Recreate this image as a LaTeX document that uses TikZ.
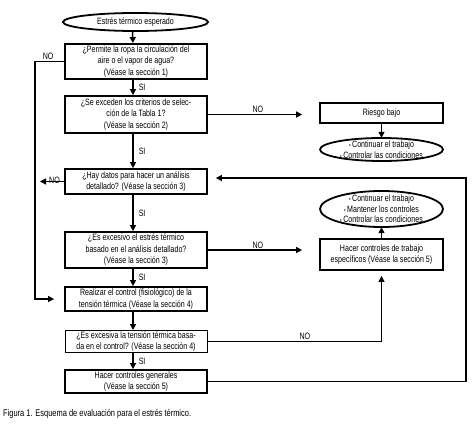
\documentclass[tikz,border=0pt]{standalone}
\usepackage{fontspec}
\setmainfont{Liberation Sans}[FakeStretch=0.77]
\usetikzlibrary{arrows.meta,calc}
\newcommand{\bul}{{\fontsize{6}{6}\selectfont •}\,}
\begin{document}
\begin{tikzpicture}[x=1pt,y=-1pt,
  font=\fontsize{9.2}{11.5}\selectfont,
  box/.style={draw, line width=1.8pt, minimum width=142pt, align=center, inner sep=0pt},
  thinbox/.style={box, line width=1pt},
  rbox/.style={draw, line width=1.8pt, minimum width=123pt, align=center, inner sep=0pt},
  ellnode/.style={minimum width=#1, align=center, inner sep=0pt},
  ell/.style={line width=1.8pt},
  arr/.style={line width=1.5pt, -{Triangle[length=6pt,width=6pt]}},
  tharr/.style={line width=0.9pt, -{Triangle[length=6pt,width=6pt]}},
  thline/.style={line width=0.9pt},
  lbl/.style={inner sep=1pt}
]
\useasboundingbox (0,0) rectangle (474,425);
\fill[white] (0,0) rectangle (474,425);

% left column
\node[ellnode=145pt, minimum height=18pt] (e0) at (135.5,22) {Estrés térmico esperado};
\draw[ell] (e0.center) ellipse [x radius=72.5pt, y radius=9pt];

\node[box, minimum height=35pt] (b1) at (136,61.5)
  {¿Permite la ropa la circulación del\\aire o el vapor de agua?\\(Véase la sección 1)};
\node[box, minimum height=37pt] (b2) at (136,114.5)
  {¿Se exceden los criterios de selec-\\ción de la Tabla 1?\\(Véase la sección 2)};
\node[box, minimum height=25pt] (b3) at (136,181.5)
  {¿Hay datos para hacer un análisis\\detallado? (Véase la sección 3)};
\node[box, minimum height=36pt] (b4) at (136,250)
  {¿Es excesivo el estrés térmico\\basado en el análisis detallado?\\(Véase la sección 3)};
\node[box, minimum height=24pt] (b5) at (136,299)
  {Realizar el control (fisiológico) de la\\tensión térmica (Véase la sección 4)};
\node[thinbox, minimum height=22pt] (b6) at (136,341.5)
  {¿Es excesiva la tensión térmica basa-\\da en el control? (Véase la sección 4)};
\node[box, minimum height=23pt] (b7) at (136,381.5)
  {Hacer controles generales\\(Véase la sección 5)};

% right column
\node[rbox, minimum height=20pt] (rb) at (381.5,113) {Riesgo bajo};
\node[ellnode=123pt, minimum height=23pt, font=\fontsize{9.2}{10.5}\selectfont] (e2) at (381.5,149.5)
  {\bul Continuar el trabajo\\\bul Controlar las condiciones};
\draw[ell] (e2.center) ellipse [x radius=61.5pt, y radius=11.5pt];
\node[ellnode=123pt, minimum height=36pt, font=\fontsize{9.2}{10.5}\selectfont] (e3) at (381.5,209)
  {\bul Continuar el trabajo\\\bul Mantener los controles\\\bul Controlar las condiciones};
\draw[ell] (e3.center) ellipse [x radius=61.5pt, y radius=18pt];
\node[rbox, minimum height=31pt] (sp) at (381.5,254.5)
  {Hacer controles de trabajo\\específicos (Véase la sección 5)};

% caption
\node[anchor=west, inner sep=0pt, font=\fontsize{9.7}{11}\selectfont] (cap) at (3,414)
  {Figura 1. Esquema de evaluación para el estrés térmico.};

% vertical flow
\draw[arr] ([xshift=-3pt]e0.south) -- ([xshift=-3pt]b1.north);
\draw[arr] ([xshift=-3pt]b1.south) -- node[right=4pt, lbl] {SI} ([xshift=-3pt]b2.north);
\draw[arr] ([xshift=-3pt]b2.south) -- node[right=4pt, lbl] {SI} ([xshift=-3pt]b3.north);
\draw[arr] ([xshift=-3pt]b3.south) -- node[right=4pt, lbl] {SI} ([xshift=-3pt]b4.north);
\draw[arr] ([xshift=-3pt]b4.south) -- node[right=4pt, lbl] {SI} ([xshift=-3pt]b5.north);
\draw[arr] ([xshift=-3pt]b5.south) -- ([xshift=-3pt]b6.north);
\draw[arr] ([xshift=-3pt]b6.south) -- node[right=4pt, lbl] {SI} ([xshift=-3pt]b7.north);

% left NO loop
\coordinate (lx) at (35,0);
\draw[arr, shorten >=10pt] (b1.west) -- node[above, lbl, pos=0.55] {NO} (b1.west -| lx) |- (b5.west);
\coordinate (n3) at (40,181.5);
\draw[arr] (b3.west) -- node[above, inner sep=0pt, yshift=-3pt, pos=0.4] {NO} (n3);

% right NO arrows
\draw[arr, shorten >=17pt] (b2.east) -- node[above, lbl, pos=0.45] {NO} (b2.east -| rb.west);
\draw[arr, shorten >=17pt] (b4.east) -- node[above, lbl, pos=0.45] {NO} (b4.east -| sp.west);
\draw[tharr, shorten >=5pt] (b6.east) -| node[above, lbl, pos=0.28] {NO} (sp.south);

% right column arrows
\draw[arr] (rb) -- (e2);
\draw[arr] (sp) -- (e3);

% feedback loop
\coordinate (fb) at (466,178);
\coordinate (fe) at ($(b3.east)+(8,-3.5)$);
\draw[arr] (b7.east) -| (fb) -- (fe);
\end{tikzpicture}
\end{document}
